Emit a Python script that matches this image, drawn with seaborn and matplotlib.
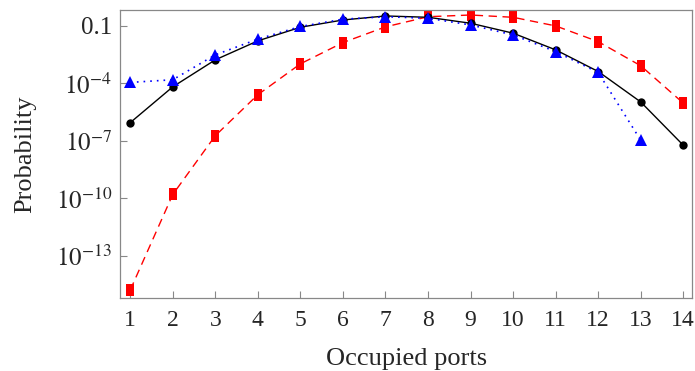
import numpy as np
import pandas as pd
import seaborn as sns
import matplotlib.pyplot as plt

# Occupied ports
ports = list(range(1, 15))
# log10 of probability
black_log = [-6.05, -4.18, -2.77, -1.78, -1.07, -0.69, -0.48, -0.55, -0.86, -1.38, -2.25, -3.38, -4.97, -7.23]
blue_log = [-3.95, -3.81, -2.51, -1.69, -1.03, -0.65, -0.52, -0.60, -0.95, -1.47, -2.34, -3.43, -6.97]
red_log = [-14.79, -9.80, -6.73, -4.59, -2.98, -1.87, -1.05, -0.52, -0.43, -0.55, -1.00, -1.82, -3.08, -5.03]

ytick_vals = [1e-1, 1e-4, 1e-7, 1e-10, 1e-13]
ytick_labels = ["0.1", r"$10^{-4}$", r"$10^{-7}$", r"$10^{-10}$", r"$10^{-13}$"]

black = pd.DataFrame({"x": ports, "p": 10.0 ** np.array(black_log)})
blue = pd.DataFrame({"x": ports[:len(blue_log)], "p": 10.0 ** np.array(blue_log)})
red = pd.DataFrame({"x": ports, "p": 10.0 ** np.array(red_log)})

sns.set_style("ticks")
plt.rcParams["font.family"] = ["Liberation Serif", "DejaVu Serif"]
plt.rcParams["mathtext.fontset"] = "stix"

fig = plt.figure(figsize=(6.95, 3.71), dpi=100)
ax = fig.add_axes([0.173, 0.197, 0.823, 0.776])

# tall rectangle marker for the red series
rect = [(-0.7, -1), (0.7, -1), (0.7, 1), (-0.7, 1), (-0.7, -1)]

sns.lineplot(data=red, x="x", y="p", ax=ax, color="#ff0000", lw=1.0,
             linestyle=(0, (6, 4)), marker=rect, markersize=8, markeredgewidth=0)
sns.lineplot(data=black, x="x", y="p", ax=ax, color="black", lw=1.0,
             marker="o", markersize=6, markeredgewidth=0)
sns.lineplot(data=blue, x="x", y="p", ax=ax, color="#0000ff", lw=1.2,
             linestyle=(0, (1, 3)), marker="^", markersize=8, markeredgewidth=0)

ax.set_yscale("log")
ax.set_xlim(0.765, 14.21)
ax.set_ylim(10 ** -15.2, 10 ** -0.17)
ax.set_xticks(ports)
ax.set_xticklabels([str(p) for p in ports], fontsize=17)
ax.set_yticks(ytick_vals)
ax.set_yticklabels(ytick_labels, fontsize=18)
ax.minorticks_off()
ax.tick_params(direction="in", length=5, color="#888888", width=0.8, pad=6)
ax.tick_params(axis="x", pad=9)
for s in ax.spines.values():
    s.set_color("#888888")
    s.set_linewidth(0.9)

ax.set_xlabel("Occupied ports", fontsize=19, labelpad=12)
ax.set_ylabel("Probability", fontsize=19, labelpad=14)

fig.savefig("out.png", dpi=100)
